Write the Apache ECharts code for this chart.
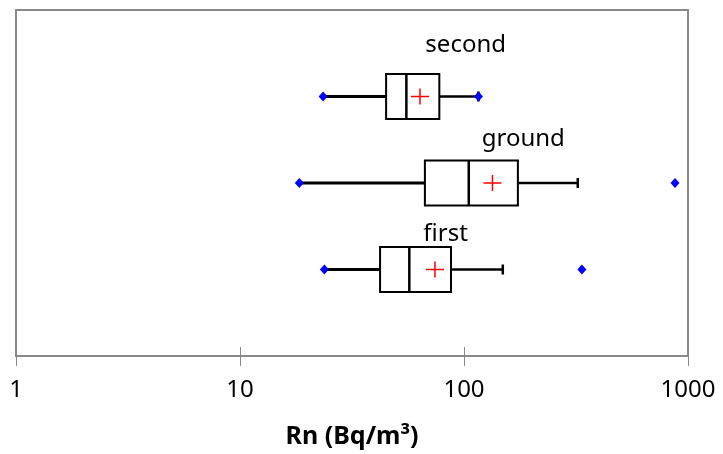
<!DOCTYPE html>
<html><head><meta charset="utf-8">
<script src="https://cdn.jsdelivr.net/npm/echarts@6/dist/echarts.min.js"></script>
<style>html,body{margin:0;padding:0;background:#fff}#c{width:723px;height:454px}</style>
</head><body><div id="c"></div>
<script>
// ---- data ----
const categories = ['first', 'ground', 'second'];
const rowPos = [1, 2, 3];
const whiskerLow = [23.8, 18.4, 23.5];
const q1 = [42.2, 66.9, 44.9];
const median = [57, 105, 55.3];
const q3 = [87.5, 174, 77.6];
const whiskerHigh = [149, 322, 116];
const mean = [74.2, 134, 63.6];
const minPoints = [23.8, 18.4, 23.5];
const maxPoints = [336, 875, 116];
const xTickLabels = ['1', '10', '100', '1000'];

// ---- styles ----
const labelDx = [14, 13, 19];
const labelDy = [-35, -44, -51];
const BOX_HALF = 22.5;

const chart = echarts.init(document.getElementById('c'));

function renderItem(params, api) {
  const i = api.value(2);
  const y = api.value(1);
  const pLow = api.coord([whiskerLow[i], y]);
  const pQ1 = api.coord([q1[i], y]);
  const pMed = api.coord([median[i], y]);
  const pQ3 = api.coord([q3[i], y]);
  const pHigh = api.coord([whiskerHigh[i], y]);
  const pMean = api.coord([mean[i], y]);
  const cy = pQ1[1];
  const black = '#000';
  return {
    type: 'group',
    children: [
      { type: 'line', shape: { x1: pLow[0], y1: cy, x2: pQ1[0], y2: cy }, style: { stroke: black, lineWidth: 3 } },
      { type: 'line', shape: { x1: pQ3[0], y1: cy, x2: pHigh[0], y2: cy }, style: { stroke: black, lineWidth: 2.5 } },
      { type: 'line', shape: { x1: pHigh[0], y1: cy - 5, x2: pHigh[0], y2: cy + 5 }, style: { stroke: black, lineWidth: 2.5 } },
      { type: 'rect', shape: { x: pQ1[0], y: cy - BOX_HALF, width: pQ3[0] - pQ1[0], height: 2 * BOX_HALF }, style: { fill: '#fff', stroke: black, lineWidth: 2 } },
      { type: 'line', shape: { x1: pMed[0], y1: cy - BOX_HALF, x2: pMed[0], y2: cy + BOX_HALF }, style: { stroke: black, lineWidth: 2.5 } },
      { type: 'line', shape: { x1: pMean[0] - 9, y1: cy, x2: pMean[0] + 9, y2: cy }, style: { stroke: '#ff0000', lineWidth: 1.5 } },
      { type: 'line', shape: { x1: pMean[0], y1: cy - 8, x2: pMean[0], y2: cy + 8 }, style: { stroke: '#ff0000', lineWidth: 1.5 } },
      { type: 'text', style: { x: pMed[0] + labelDx[i], y: cy + labelDy[i], text: categories[i], font: '24px "Noto Sans"', fill: '#000', textAlign: 'left', textVerticalAlign: 'middle' } }
    ]
  };
}

const diamondData = [];
categories.forEach((c, i) => {
  diamondData.push([minPoints[i], rowPos[i]]);
  diamondData.push([maxPoints[i], rowPos[i]]);
});

chart.setOption({
  animation: false,
  grid: { left: 16, right: 35, top: 10, bottom: 97, show: true, borderColor: '#898989', borderWidth: 2, backgroundColor: 'transparent' },
  xAxis: [{
    type: 'log', logBase: 10, min: 1, max: 1000,
    name: 'Rn (Bq/m³)', nameLocation: 'middle', nameGap: 68,
    nameTextStyle: { fontFamily: 'Noto Sans', fontWeight: 'bold', fontSize: 25, color: '#000' },
    axisLine: { show: true, lineStyle: { color: '#898989', width: 2 } },
    axisTick: { show: true, length: 10, lineStyle: { color: '#898989', width: 1 } },
    axisLabel: { margin: 22, fontFamily: 'Noto Sans', fontSize: 24, color: '#000',
      formatter: v => xTickLabels[Math.round(Math.log10(v))] },
    splitLine: { show: false }, minorTick: { show: false }
  }, {
    type: 'log', logBase: 10, min: 1, max: 1000, position: 'bottom',
    axisLine: { show: false },
    axisTick: { show: true, inside: true, length: 9, lineStyle: { color: '#898989', width: 1 } },
    axisLabel: { show: false }, splitLine: { show: false }
  }],
  yAxis: { type: 'value', min: 0, max: 4, show: false, splitLine: { show: false } },
  series: [{
    type: 'custom',
    renderItem: renderItem,
    encode: { x: 0, y: 1 },
    data: categories.map((c, i) => [median[i], rowPos[i], i]),
    z: 2
  }, {
    type: 'scatter',
    symbol: 'diamond', symbolSize: [9, 10],
    itemStyle: { color: '#0000ff', opacity: 1 },
    data: diamondData,
    z: 5
  }]
});
</script>
</body></html>
